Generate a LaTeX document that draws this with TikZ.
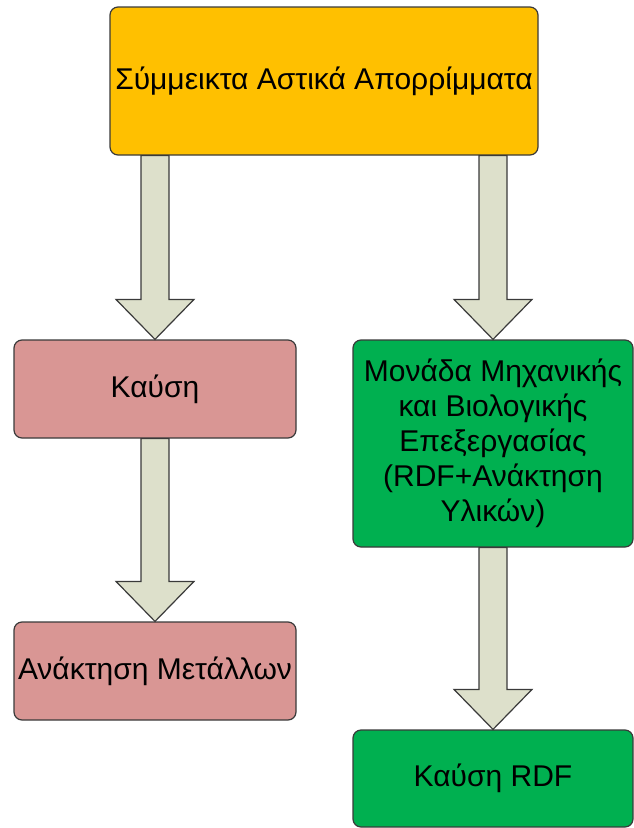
\documentclass[tikz,border=0pt]{standalone}
\usepackage{fontspec}
\setmainfont{Liberation Sans}
\usetikzlibrary{calc}

\definecolor{wasteorange}{HTML}{FFC000}
\definecolor{burnpink}{HTML}{D99694}
\definecolor{mbtgreen}{HTML}{00B050}
\definecolor{arrowfill}{HTML}{DDE0CB}
\definecolor{boxline}{HTML}{3A3A3A}

% block arrow from (#1) down to the tip at (#2)
\newcommand{\blockarrow}[2]{%
  \draw[blockarr] ($(#1)+(-14,0)$) -- ($(#2)+(-14,-40)$) -- ($(#2)+(-39,-40)$)
    -- (#2) -- ($(#2)+(39,-40)$) -- ($(#2)+(14,-40)$) -- ($(#1)+(14,0)$) -- cycle;}

\begin{document}
\begin{tikzpicture}[x=1pt,y=-1pt,
    box/.style={draw=boxline, line width=1.2pt, rounded corners=8pt, inner sep=0pt,
      align=center, font=\fontsize{30}{35}\selectfont},
    blockarr/.style={draw=boxline, line width=1.2pt, fill=arrowfill, line join=miter}]
    \useasboundingbox (0,0) rectangle (633,828);

    \node[box, fill=wasteorange, minimum width=428pt, minimum height=148pt] (waste) at (324,81) {Σύμμεικτα Αστικά Απορρίμματα};

    \node[box, fill=burnpink, minimum width=282pt, minimum height=98pt] (kausi) at (155,389) {Καύση};
    \node[box, fill=burnpink, minimum width=282pt, minimum height=98pt] (metals) at (155,671) {Ανάκτηση Μετάλλων};

    \node[box, fill=mbtgreen, minimum width=280pt, minimum height=207pt] (mbt) at (493,443.5)
        {Μονάδα Μηχανικής\\και Βιολογικής\\Επεξεργασίας\\(RDF+Ανάκτηση\\Υλικών)};
    \node[box, fill=mbtgreen, minimum width=280pt, minimum height=97pt] (rdf) at (493,778.5) {Καύση RDF};

    \coordinate (s1) at (waste.south -| kausi.north);
    \coordinate (s2) at (waste.south -| mbt.north);

    \blockarrow{s1}{kausi.north}
    \blockarrow{s2}{mbt.north}
    \blockarrow{kausi.south}{metals.north}
    \blockarrow{mbt.south}{rdf.north}
\end{tikzpicture}
\end{document}
